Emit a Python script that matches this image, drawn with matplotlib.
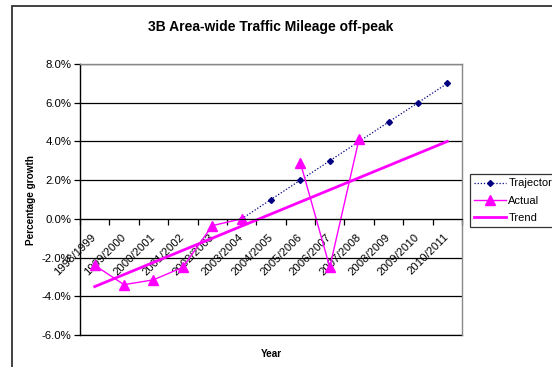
import numpy as np
import matplotlib
matplotlib.use("Agg")
import matplotlib.pyplot as plt
import matplotlib.transforms as mtransforms
from matplotlib.patches import Rectangle
from matplotlib.ticker import FuncFormatter, FixedLocator

plt.rcParams['font.family'] = ['Liberation Sans', 'DejaVu Sans']

years = ["1998/1999", "1999/2000", "2000/2001", "2001/2002", "2002/2003",
         "2003/2004", "2004/2005", "2005/2006", "2006/2007", "2007/2008",
         "2008/2009", "2009/2010", "2010/2011"]
trajectory = [np.nan, np.nan, np.nan, np.nan, np.nan,
              0.0, 1.0, 2.0, 3.0, 4.0, 5.0, 6.0, 7.0]
actual = [-2.4, -3.4, -3.15, -2.5, -0.35, 0.0, np.nan,
          2.9, -2.5, 4.15, np.nan, np.nan, np.nan]
trend = [-3.5, -2.875, -2.25, -1.625, -1.0, -0.375, 0.25,
         0.875, 1.5, 2.125, 2.75, 3.375, 4.0]

W, H = 552, 367
fig = plt.figure(figsize=(W / 100, H / 100), dpi=100)
fig.patch.set_facecolor('white')

# outer chart frame (runs off the right and bottom edges)
fig.patches.append(Rectangle((12 / W, -0.2), 1.2, 1 - 6 / H + 0.2,
                             transform=fig.transFigure, fill=False,
                             edgecolor='#333333', lw=1.3))

ax = fig.add_axes([80 / W, 32 / H, 382 / W, 271 / H])
x = np.arange(len(years))

# category axis crosses the value axis at zero
ax.spines['bottom'].set_position(('data', 0))

ax.plot(x, trajectory, color='#000080', linestyle=(0, (1, 1.5)), lw=0.9,
        marker='D', markersize=3, label='Trajectory')
ax.plot(x, actual, color='#FF00FF', lw=1.0, marker='^', markersize=7,
        label='Actual')
ax.plot(x, trend, color='#FF00FF', lw=2.0, label='Trend')

ax.set_xlim(-0.5, len(years) - 0.5)
ax.set_ylim(-6, 8)
ax.set_yticks(np.arange(-6, 8.1, 2))
ax.yaxis.set_major_formatter(FuncFormatter(lambda v, p: f"{v:.1f}%"))
ax.grid(axis='y', color='black', lw=0.9)
ax.axhline(-6, color='black', lw=0.9, clip_on=False, zorder=0.5)
ax.set_axisbelow(True)

ax.set_xticks(x)
ax.set_xticklabels(years, rotation=45, ha='right', va='center',
                   rotation_mode='anchor', fontsize=8.2)
shift = mtransforms.ScaledTranslation(-5 / 100, 0, fig.dpi_scale_trans)
for lbl in ax.get_xticklabels():
    lbl.set_transform(lbl.get_transform() + shift)
ax.xaxis.set_minor_locator(FixedLocator(np.arange(-0.5, len(years), 1)))
ax.tick_params(axis='x', which='major', length=0, pad=12)
ax.tick_params(axis='x', which='minor', length=4, direction='out', width=0.9)
ax.tick_params(axis='y', length=4, direction='out', width=0.9, labelsize=8.2, pad=2)

ax.spines['bottom'].set_color('black')
ax.spines['left'].set_color('black')
ax.spines['left'].set_linewidth(1.0)
for s in ('top', 'right'):
    ax.spines[s].set_color('#888888')
    ax.spines[s].set_linewidth(1.0)

fig.text(271 / W, 1 - 27 / H, "3B Area-wide Traffic Mileage off-peak",
         ha='center', va='center', fontsize=10, fontweight='bold')
fig.text(31 / W, 1 - 200 / H, "Percentage growth", rotation=90,
         ha='center', va='center', fontsize=7.2, fontweight='bold')
fig.text(271 / W, 1 - 354 / H, "Year", ha='center', va='center',
         fontsize=7.2, fontweight='bold')

leg = fig.legend(loc='upper left', bbox_to_anchor=(470 / W, 1 - 174 / H),
                 fontsize=8, frameon=True, fancybox=False, borderaxespad=0,
                 handlelength=2.8, handletextpad=0.25, borderpad=0.4,
                 labelspacing=0.65)
leg.get_frame().set_edgecolor('black')
leg.get_frame().set_linewidth(0.9)

fig.savefig('out.png', dpi=100)
